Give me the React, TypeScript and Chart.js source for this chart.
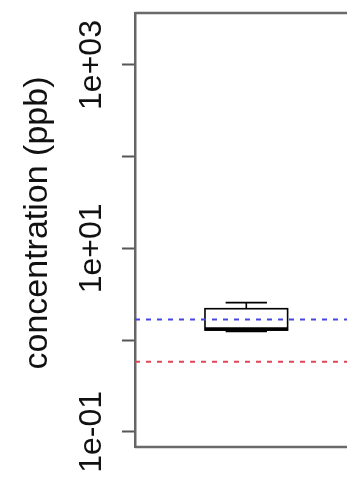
import React, { useEffect, useRef } from 'react';
import { Chart, registerables } from 'chart.js';

Chart.register(...registerables);

// ---- data ----
const groups = ['1'];
const groupPositions = [1];
const whiskerLow = [1.24];
const q1 = [1.287];
const median = [1.32];
const q3 = [2.2];
const whiskerHigh = [2.56];

const limitBlue = 1.68;
const limitRed = 0.581;

const yTickValues = [0.1, 1, 10, 100, 1000];
const yTickLabels = ['1e-01', '', '1e+01', '', '1e+03'];
const yTitle = 'concentration (ppb)';

const X_MIN = -0.0775;
const X_MAX = 1.975;
const Y_MIN = 0.0683;
const Y_MAX = 3690;

const FONT = '"Liberation Sans", Arial, Helvetica, sans-serif';

const boxplotPlugin = {
  id: 'boxplot',
  beforeDatasetsDraw(chart: any) {
    const { ctx, scales } = chart;
    const x = scales.x;
    const y = scales.y;
    ctx.save();
    ctx.strokeStyle = '#000';
    groups.forEach((_, i) => {
      const p = groupPositions[i];
      const left = x.getPixelForValue(p - 0.4);
      const right = x.getPixelForValue(p + 0.4);
      const cx = x.getPixelForValue(p);
      const sl = x.getPixelForValue(p - 0.2);
      const sr = x.getPixelForValue(p + 0.2);
      const yHi = y.getPixelForValue(whiskerHigh[i]);
      const yQ3 = y.getPixelForValue(q3[i]);
      const yQ1 = y.getPixelForValue(q1[i]);
      const yLo = y.getPixelForValue(whiskerLow[i]);
      const yMed = y.getPixelForValue(median[i]);
      ctx.lineWidth = 1.6;
      ctx.beginPath();
      ctx.moveTo(cx, yHi); ctx.lineTo(cx, yQ3);
      ctx.moveTo(cx, yQ1); ctx.lineTo(cx, yLo);
      ctx.moveTo(sl, yHi); ctx.lineTo(sr, yHi);
      ctx.moveTo(sl, yLo); ctx.lineTo(sr, yLo);
      ctx.stroke();
      ctx.strokeRect(left, yQ3, right - left, yQ1 - yQ3);
      ctx.lineWidth = 3.5;
      ctx.beginPath();
      ctx.moveTo(left, yMed); ctx.lineTo(right, yMed);
      ctx.stroke();
    });
    ctx.restore();
  },
};

const framePlugin = {
  id: 'frameAndLabels',
  afterDraw(chart: any) {
    const { ctx, chartArea, scales } = chart;
    const y = scales.y;
    ctx.save();
    ctx.strokeStyle = '#6a6a6a';
    ctx.lineWidth = 2.5;
    ctx.beginPath();
    ctx.moveTo(chartArea.left, chartArea.top);
    ctx.lineTo(chartArea.right + 5, chartArea.top);
    ctx.moveTo(chartArea.left, chartArea.bottom);
    ctx.lineTo(chartArea.right + 5, chartArea.bottom);
    ctx.stroke();

    ctx.fillStyle = '#111';
    ctx.font = `32px ${FONT}`;
    ctx.textAlign = 'center';
    ctx.textBaseline = 'alphabetic';
    yTickValues.forEach((v, i) => {
      const label = yTickLabels[i];
      if (!label) return;
      const py = y.getPixelForValue(v);
      ctx.save();
      ctx.translate(101, py);
      ctx.rotate(-Math.PI / 2);
      ctx.fillText(label, 0, 0);
      ctx.restore();
    });

    ctx.font = `34px ${FONT}`;
    ctx.save();
    ctx.translate(46.5, (chartArea.top + chartArea.bottom) / 2 - 7);
    ctx.rotate(-Math.PI / 2);
    ctx.fillText(yTitle, 0, 0);
    ctx.restore();
    ctx.restore();
  },
};

export default function App() {
  const ref = useRef<HTMLCanvasElement | null>(null);
  useEffect(() => {
    document.body.style.margin = '0';
    const canvas = ref.current;
    if (!canvas) return;
    const chart = new Chart(canvas, {
      type: 'line',
      data: {
        datasets: [
          {
            label: 'blue limit',
            data: [
              { x: X_MIN, y: limitBlue },
              { x: X_MAX, y: limitBlue },
            ],
            borderColor: '#4646e0',
            borderWidth: 2,
            borderDash: [5, 6],
            pointRadius: 0,
            fill: false,
          },
          {
            label: 'red limit',
            data: [
              { x: X_MIN, y: limitRed },
              { x: X_MAX, y: limitRed },
            ],
            borderColor: '#e04658',
            borderWidth: 2,
            borderDash: [5, 6],
            pointRadius: 0,
            fill: false,
          },
        ],
      },
      options: {
        animation: false,
        responsive: false,
        devicePixelRatio: 1,
        layout: { padding: { top: 13, bottom: 30, left: 0, right: 0 } },
        plugins: { legend: { display: false }, tooltip: { enabled: false } },
        scales: {
          x: { type: 'linear', min: X_MIN, max: X_MAX, display: false },
          y: {
            type: 'logarithmic',
            min: Y_MIN,
            max: Y_MAX,
            afterBuildTicks: (s: any) => {
              s.ticks = yTickValues.map((v) => ({ value: v }));
            },
            afterFit: (s: any) => {
              s.width = 135;
            },
            ticks: { display: false },
            grid: {
              drawOnChartArea: false,
              drawTicks: true,
              tickLength: 13,
              tickColor: '#555',
              tickWidth: 2,
            },
            border: { display: true, color: '#666', width: 2.5 },
          },
        },
      },
      plugins: [boxplotPlugin, framePlugin],
    } as any);
    return () => chart.destroy();
  }, []);
  return (
    <div style={{ position: 'absolute', left: 0, top: 0, width: 347, height: 477 }}>
      <canvas ref={ref} width={347} height={477} style={{ display: 'block' }} />
    </div>
  );
}
